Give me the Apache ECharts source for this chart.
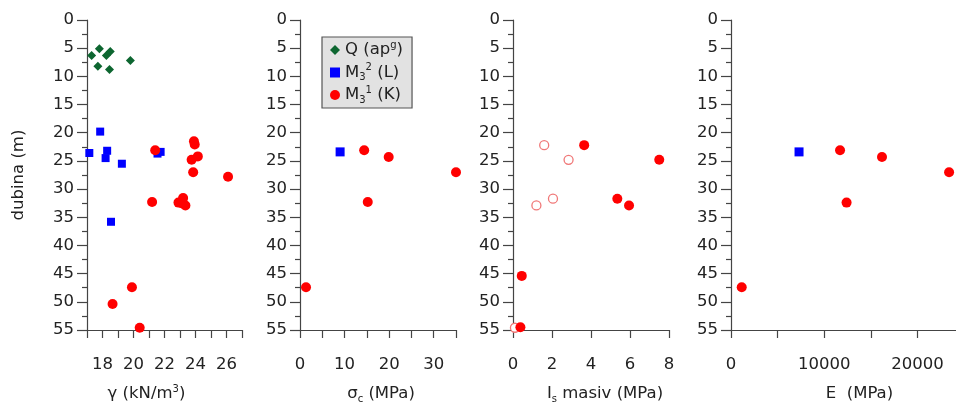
<!DOCTYPE html>
<html>
<head>
<meta charset="utf-8">
<script src="https://cdn.jsdelivr.net/npm/echarts@6/dist/echarts.min.js"></script>
<style>
  html, body { margin: 0; padding: 0; background: #fff; }
  #chart { width: 956px; height: 402px; }
</style>
</head>
<body>
<div id="chart"></div>
<script>
// depth (m) vs. parameter, one array per layer and panel: [value, depth]
const gammaQ = [[17.3, 6.3], [17.8, 5.1], [18.5, 5.6], [18.25, 6.3], [17.7, 8.2], [18.45, 8.8], [19.8, 7.2]];
const gammaL = [[17.85, 19.8], [17.15, 23.6], [18.3, 23.2], [18.2, 24.5], [19.25, 25.5], [21.55, 23.7], [21.75, 23.4], [18.55, 35.8]];
const gammaK = [[21.4, 23.1], [23.9, 21.5], [23.95, 22.1], [24.15, 24.2], [23.75, 24.8], [23.85, 27.0], [26.1, 27.8],
  [21.2, 32.3], [22.9, 32.4], [23.2, 31.6], [23.35, 32.9], [23.1, 32.5], [19.9, 47.4], [18.65, 50.4], [20.4, 54.6]];

const sigmaL = [[9.0, 23.4]];
const sigmaK = [[14.4, 23.1], [19.9, 24.3], [35.0, 27.0], [15.2, 32.3], [1.35, 47.4]];

const isOpen = [[1.6, 22.2], [2.85, 24.8], [1.2, 32.9], [2.05, 31.7], [0.1, 54.6]];
const isK = [[3.65, 22.2], [7.5, 24.8], [5.35, 31.7], [5.95, 32.9], [0.45, 45.4], [0.38, 54.5]];

const eL = [[7300, 23.4]];
const eK = [[11700, 23.1], [16200, 24.3], [23400, 27.0], [12400, 32.4], [1150, 47.4]];

const legendNames = ["Q", "M32", "M31"];
const legendLabels = {
  Q: "Q (ap{sup|g})",
  M32: "M{sub|3}{sup|2} (L)",
  M31: "M{sub|3}{sup|1} (K)",
};

const FONT = "DejaVu Sans, sans-serif";
const AXIS_COLOR = "#444";
const TEXT_COLOR = "#222";
const GREEN = "#0d6630";
const BLUE = "#0000ff";
const RED = "#ff0000";

const rich = {
  sub: { fontSize: 10, lineHeight: 10, verticalAlign: "bottom", fontFamily: FONT, color: TEXT_COLOR },
  sup: { fontSize: 10, lineHeight: 10, verticalAlign: "top", fontFamily: FONT, color: TEXT_COLOR },
};

let chart = echarts.init(document.getElementById("chart"));

let grids = [
  { left: 87, top: 20, width: 155, height: 310, outerBoundsMode: "none" },
  { left: 300, top: 20, width: 156, height: 310, outerBoundsMode: "none" },
  { left: 513, top: 20, width: 156, height: 310, outerBoundsMode: "none" },
  { left: 731, top: 20, width: 233, height: 310, outerBoundsMode: "none" },
];

function xAxis(idx, min, max, interval, labelEvery, name, shift) {
  return {
    type: "value",
    gridIndex: idx,
    min: min,
    max: max,
    interval: interval,
    name: name,
    nameLocation: "middle",
    nameGap: 54,
    nameTextStyle: {
      fontSize: 16.5, lineHeight: 20, fontFamily: FONT, color: TEXT_COLOR,
      padding: shift > 0 ? [0, 0, 0, shift * 2] : [0, -shift * 2, 0, 0],
      rich: rich,
    },
    axisLine: { show: true, onZero: false, lineStyle: { color: AXIS_COLOR, width: 1.2 } },
    axisTick: { show: true, length: 8, lineStyle: { color: AXIS_COLOR, width: 1.2 } },
    axisLabel: {
      margin: 26, fontSize: 16.5, fontFamily: FONT, color: TEXT_COLOR,
      formatter: function (v) { return Math.round(v) % labelEvery === 0 ? String(v) : ""; },
    },
    splitLine: { show: false },
  };
}

function yAxis(idx, name) {
  return {
    type: "value",
    gridIndex: idx,
    inverse: true,
    min: 0,
    max: 55,
    interval: 5,
    name: name,
    nameLocation: "middle",
    nameGap: 60,
    nameTextStyle: { fontSize: 16.5, fontFamily: FONT, color: TEXT_COLOR },
    axisLine: { show: true, lineStyle: { color: AXIS_COLOR, width: 1.2 } },
    axisTick: { show: true, length: 10, lineStyle: { color: AXIS_COLOR, width: 1.2 } },
    minorTick: { show: true, splitNumber: 2, length: 5, lineStyle: { color: AXIS_COLOR, width: 1.2 } },
    axisLabel: { margin: 13, fontSize: 16.5, fontFamily: FONT, color: TEXT_COLOR },
    splitLine: { show: false },
  };
}

function scatter(name, idx, data, symbol, size, color, hollow) {
  return {
    name: name,
    type: "scatter",
    xAxisIndex: idx,
    yAxisIndex: idx,
    data: data,
    symbol: symbol,
    symbolSize: size,
    clip: false,
    itemStyle: hollow
      ? { color: "#fff", borderColor: "#f07878", borderWidth: 1.3, opacity: 1 }
      : { color: color, opacity: 1 },
  };
}

let option = {
  backgroundColor: "#fff",
  animation: false,
  grid: grids,
  legend: {
    data: legendNames.map(function (n, i) {
      return { name: n, icon: ["diamond", "rect", "circle"][i] };
    }),
    orient: "vertical",
    left: 322,
    top: 37,
    padding: [3, 9, 3, 8],
    itemGap: 2.5,
    itemWidth: 10,
    itemHeight: 10,
    backgroundColor: "#e2e2e2",
    borderColor: "#555",
    borderWidth: 1.2,
    borderRadius: 0,
    selectedMode: false,
    formatter: function (n) { return legendLabels[n]; },
    textStyle: { fontSize: 16.5, lineHeight: 20, fontFamily: FONT, color: TEXT_COLOR, rich: rich },
  },
  xAxis: [
    xAxis(0, 17, 27, 1, 2, "γ (kN/m{sup|3})", -18),
    xAxis(1, 0, 35, 5, 10, "σ{sub|c} (MPa)", 3),
    xAxis(2, 0, 8, 2, 2, "I{sub|s} masiv (MPa)", 14),
    xAxis(3, 0, 25000, 5000, 10000, "E  (MPa)", 12),
  ],
  yAxis: [yAxis(0, "dubina (m)"), yAxis(1, ""), yAxis(2, ""), yAxis(3, "")],
  series: [
    scatter("Q", 0, gammaQ, "diamond", 9, GREEN),
    scatter("M32", 0, gammaL, "rect", 8, BLUE),
    scatter("M31", 0, gammaK, "circle", 10, RED),
    scatter("M32", 1, sigmaL, "rect", 9, BLUE),
    scatter("M31", 1, sigmaK, "circle", 10, RED),
    scatter("M31open", 2, isOpen, "circle", 9, RED, true),
    scatter("M31", 2, isK, "circle", 10, RED),
    scatter("M32", 3, eL, "rect", 9, BLUE),
    scatter("M31", 3, eK, "circle", 10, RED),
  ],
};

option && chart.setOption(option);
</script>
</body>
</html>
